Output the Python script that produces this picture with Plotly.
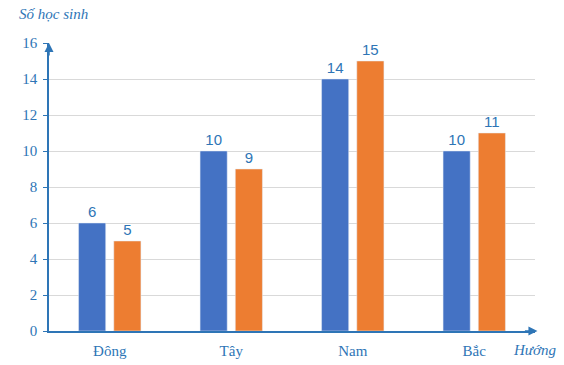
import plotly.graph_objects as go

categories = ["Đông", "Tây", "Nam", "Bắc"]
series_a = [6, 10, 14, 10]
series_b = [5, 9, 15, 11]
y_ticks = [0, 2, 4, 6, 8, 10, 12, 14, 16]

BLUE = "#4472C4"
ORANGE = "#ED7D31"
TXT = "#2E75B6"

fig = go.Figure()
for vals, col in ((series_a, BLUE), (series_b, ORANGE)):
    fig.add_trace(go.Bar(x=categories, y=vals, marker_color=col, text=vals,
                         textposition="outside", cliponaxis=False,
                         textfont=dict(color=TXT, size=15, family="Liberation Sans")))

fig.update_layout(
    width=564, height=365,
    margin=dict(l=49, r=29, t=43, b=34),
    plot_bgcolor="white", paper_bgcolor="white",
    showlegend=False,
    barmode="group", bargap=0.42, bargroupgap=0.23,
    font=dict(family="Liberation Serif", color=TXT, size=14),
)
fig.update_xaxes(range=[-0.5, 3.5], showline=True, linecolor=TXT, linewidth=1.5,
                 ticks="", showgrid=False, automargin=False, ticklabelstandoff=5,
                 tickfont=dict(size=15, family="Liberation Serif", color=TXT))
fig.update_yaxes(range=[0, 16], tickvals=y_ticks, showline=True, linecolor=TXT, linewidth=1.5,
                 ticks="outside", ticklen=4, tickcolor=TXT, gridcolor="#D9D9D9", zeroline=False,
                 automargin=False, ticklabelstandoff=3,
                 tickfont=dict(size=15, family="Liberation Serif", color=TXT))

# axis arrowheads
fig.add_annotation(x=0, y=1, xref="paper", yref="paper", ax=0, ay=14, showarrow=True,
                   arrowhead=2, arrowsize=1.2, arrowwidth=1.5, arrowcolor=TXT, text="")
fig.add_annotation(x=1.005, y=0, xref="paper", yref="paper", ax=-14, ay=0, showarrow=True,
                   arrowhead=2, arrowsize=1.2, arrowwidth=1.5, arrowcolor=TXT, text="")

fig.add_annotation(x=-0.066, y=1.10, xref="paper", yref="paper", text="<i>Số học sinh</i>",
                   showarrow=False, xanchor="left", yanchor="middle",
                   font=dict(size=15, family="Liberation Serif", color=TXT))
fig.add_annotation(x=1.05, y=-0.066, xref="paper", yref="paper", text="<i>Hướng</i>",
                   showarrow=False, xanchor="right", yanchor="middle",
                   font=dict(size=15, family="Liberation Serif", color=TXT))

fig.write_html("out.html", config={"displayModeBar": False},
               post_script="document.body.style.margin='0';")
